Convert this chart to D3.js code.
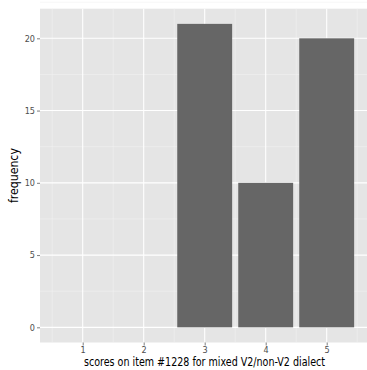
<!DOCTYPE html>
<html><head><meta charset="utf-8">
<script src="https://cdn.jsdelivr.net/npm/d3@7"></script>
<style>html,body{margin:0;padding:0;background:#fff;overflow:hidden}</style>
</head><body>
<svg id="c" width="367" height="370"></svg>
<script>
const scores = [3, 4, 5];
const frequency = [21, 10, 20];
const xTicks = [1, 2, 3, 4, 5];
const yTicks = [0, 5, 10, 15, 20];
const xTitle = "scores on item #1228 for mixed V2/non-V2 dialect";
const yTitle = "frequency";

const font = "'Liberation Sans Narrow','DejaVu Sans Condensed','DejaVu Sans',sans-serif";
const svg = d3.select("#c");
const L = 40, R = 369.4, T = 8.7, B = 342.5;
const x = d3.scaleLinear().domain([0.3, 5.7]).range([L, R]);
const y = d3.scaleLinear().domain([-1.05, 22.05]).range([B, T]);

svg.append("rect").attr("x", L).attr("y", T).attr("width", R - L).attr("height", B - T).attr("fill", "#E5E5E5");
const g = svg.append("g");
const xMinor = xTicks.map(d => d - 0.5).concat([xTicks[xTicks.length - 1] + 0.5]);
const yMinor = yTicks.map(d => d + 2.5);
g.selectAll(".vmin").data(xMinor).join("line").attr("x1", d => x(d)).attr("x2", d => x(d)).attr("y1", T).attr("y2", B).attr("stroke", "#F2F2F2").attr("stroke-width", 0.6);
g.selectAll(".hmin").data(yMinor).join("line").attr("y1", d => y(d)).attr("y2", d => y(d)).attr("x1", L).attr("x2", R).attr("stroke", "#F2F2F2").attr("stroke-width", 0.6);
g.selectAll(".vmaj").data(xTicks).join("line").attr("x1", d => x(d)).attr("x2", d => x(d)).attr("y1", T).attr("y2", B).attr("stroke", "#fff").attr("stroke-width", 1.1);
g.selectAll(".hmaj").data(yTicks).join("line").attr("y1", d => y(d)).attr("y2", d => y(d)).attr("x1", L).attr("x2", R).attr("stroke", "#fff").attr("stroke-width", 1.1);

const bw = 0.9;
svg.selectAll(".bar").data(scores).join("rect")
  .attr("x", d => x(d - bw / 2)).attr("width", d => x(d + bw / 2) - x(d - bw / 2))
  .attr("y", (d, i) => y(frequency[i])).attr("height", (d, i) => y(0) - y(frequency[i]))
  .attr("fill", "#666666");

const xa = svg.append("g").attr("transform", `translate(0,${B})`)
  .call(d3.axisBottom(x).tickValues(xTicks).tickSize(3).tickPadding(1).tickFormat(d3.format("d")));
const ya = svg.append("g").attr("transform", `translate(${L},0)`)
  .call(d3.axisLeft(y).tickValues(yTicks).tickSize(3).tickPadding(2).tickFormat(d3.format("d")));
[xa, ya].forEach(a => {
  a.select(".domain").remove();
  a.selectAll("line").attr("stroke", "#7F7F7F");
  a.selectAll("text").attr("fill", "#4D4D4D").style("font-family", font).style("font-size", "9px");
});

const cx = (84 + 325) / 2;
svg.append("text").attr("x", cx).attr("y", 366).attr("text-anchor", "middle")
  .attr("textLength", 241).attr("lengthAdjust", "spacingAndGlyphs")
  .style("font-family", font).style("font-size", "12.5px").attr("fill", "#000").text(xTitle);
svg.append("text").attr("transform", `translate(18,${(T + B) / 2}) rotate(-90)`).attr("text-anchor", "middle")
  .attr("textLength", 55).attr("lengthAdjust", "spacingAndGlyphs")
  .style("font-family", font).style("font-size", "13px").attr("fill", "#000").text(yTitle);
</script>
</body></html>
